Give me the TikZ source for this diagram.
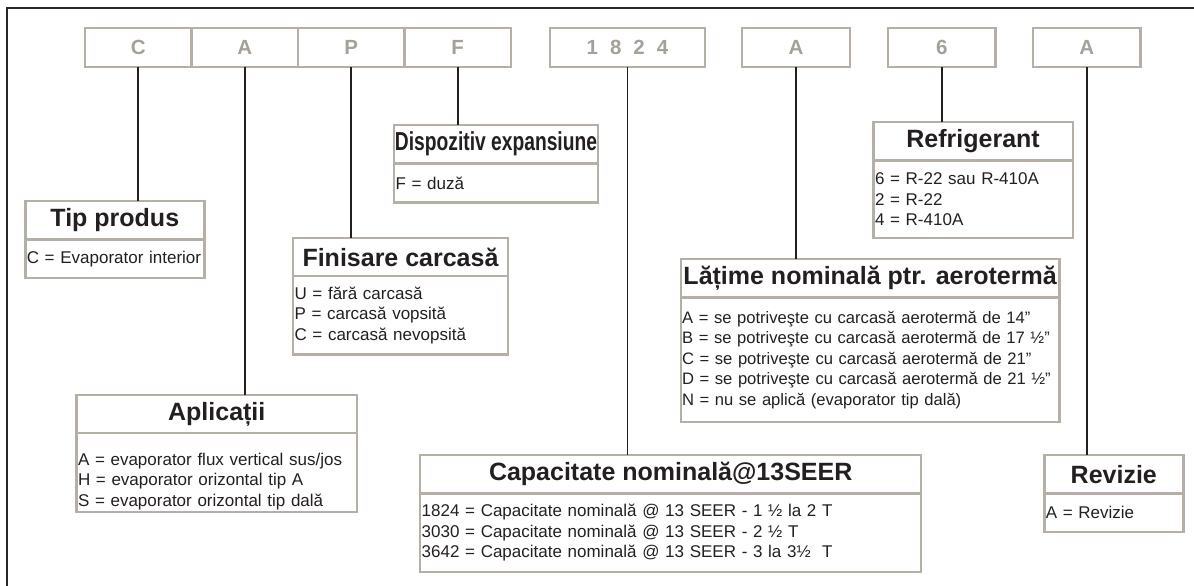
\documentclass[tikz,border=0pt]{standalone}
\usepackage{fontspec}
\usepackage{graphicx}
\setmainfont{Liberation Sans}
\usetikzlibrary{positioning}
\hyphenpenalty=10000
\definecolor{boxgray}{RGB}{181,175,165}
\definecolor{codegray}{RGB}{165,160,152}
\definecolor{inkblack}{RGB}{35,31,32}
\tikzset{
x=1pt, y=-1pt, % one unit per pixel, measured from the top
outer sep=0pt, % lets neighbouring boxes share their borders
codebox/.style={draw=boxgray, line width=2.4pt, minimum height=39pt, inner sep=0pt, text=codegray, font=\fontsize{20.5}{22}\selectfont\bfseries}, % letters of the model code
head/.style={draw=boxgray, line width=2.4pt, minimum height=38.5pt, inner sep=0pt, text=inkblack, font=\fontsize{25}{30}\selectfont\bfseries}, % title of a field
body/.style={draw=boxgray, line width=2.4pt, inner xsep=1.5pt, inner ysep=0pt, align=left, text=inkblack, font=\fontsize{17}{20.5}\selectfont}, % values of a field
wire/.style={line width=1.7pt, inkblack}, % code letter to its field
frame/.style={line width=2.6pt, black!85},
}

\begin{document}
\begin{tikzpicture}
    \clip (0,0) rectangle (1194,586);
    \draw[frame] (7,8) rectangle (1230,630);

    % model code
    \node[codebox, minimum width=106.5pt, anchor=north west] (cC) at (85,28) {C};
    \node[codebox, minimum width=106.5pt, right=0pt of cC] (cA) {A};
    \node[codebox, minimum width=106.5pt, right=0pt of cA] (cP) {P};
    \node[codebox, minimum width=106.5pt, right=0pt of cP] (cF) {F};
    \node[codebox, minimum width=155pt, right=39pt of cF] (cCap) {1\hspace{12pt}8\hspace{12pt}2\hspace{12pt}4};
    \node[codebox, minimum width=108pt, right=37pt of cCap] (cLat) {A};
    \node[codebox, minimum width=107.5pt, right=38pt of cLat] (cRef) {6};
    \node[codebox, minimum width=107.5pt, right=37.5pt of cRef] (cRev) {A};

    % fields
    \node[head, minimum width=179pt, anchor=north west] (tipH) at (25.3,201) {Tip produs};
    \node[body, text width=176pt, minimum height=38.7pt, below=0pt of tipH] (tipB) {C = Evaporator interior};

    \node[head, minimum width=280.5pt, anchor=north west] (aplH) at (76.5,394.7) {Aplicații};
    \node[body, text width=277.5pt, minimum height=78.7pt, below=0pt of aplH] (aplB) {\rule{0pt}{30pt}A = evaporator flux vertical sus/jos\\H = evaporator orizontal tip A\\S = evaporator orizontal tip dală};

    \node[head, minimum width=215pt, anchor=north west] (finH) at (293,237.7) {Finisare carcasă};
    \node[body, text width=212pt, minimum height=78.3pt, below=0pt of finH] (finB) {U = fără carcasă\\P = carcasă vopsită\\C = carcasă nevopsită};

    \node[head, minimum width=204pt, anchor=north west] (dspH) at (394,125) {\scalebox{0.74}[1]{\fontsize{26}{30}\selectfont Dispozitiv expansiune}};
    \node[body, text width=201pt, minimum height=39pt, below=0pt of dspH] (dspB) {F = duză};

    \node[head, minimum width=501pt, anchor=north west] (capH) at (420.2,455) {Capacitate nominală@13SEER};
    \node[body, text width=498pt, minimum height=78.4pt, below=0pt of capH] (capB) {1824 = Capacitate nominală @ 13 SEER - 1 ½ la 2 T\\3030 = Capacitate nominală @ 13 SEER - 2 ½ T\\3642 = Capacitate nominală @ 13 SEER - 3 la 3½\ \ T};

    \node[head, minimum width=378.8pt, anchor=north west] (latH) at (680.7,259) {Lățime nominală ptr. aerotermă};
    \node[body, text width=375.8pt, minimum height=124.4pt, below=0pt of latH, font=\fontsize{16.6}{20.5}\selectfont] (latB) {A = se potriveşte cu carcasă aerotermă de 14”\\B = se potriveşte cu carcasă aerotermă de 17~½”\\C = se potriveşte cu carcasă aerotermă de 21”\\D = se potriveşte cu carcasă aerotermă de 21~½”\\N = nu se aplică (evaporator tip dală)};

    \node[head, minimum width=199.2pt, anchor=north west] (refH) at (873.5,122) {Refrigerant};
    \node[body, text width=196.2pt, minimum height=77.6pt, below=0pt of refH] (refB) {6 = R-22 sau R-410A\\2 = R-22\\4 = R-410A};

    \node[head, minimum width=139pt, anchor=north west] (revH) at (1044.3,455) {Revizie};
    \node[body, text width=136pt, minimum height=38.4pt, below=0pt of revH] (revB) {A = Revizie};

    % code letters to fields
    \draw[wire] (cC.south) -- (cC.south |- tipH.north);
    \draw[wire] (cA.south) -- (cA.south |- aplH.north);
    \draw[wire] (cP.south) -- (cP.south |- finH.north);
    \draw[wire] (cF.south) -- (cF.south |- dspH.north);
    \draw[wire] (cCap.south) -- (cCap.south |- capH.north);
    \draw[wire] (cLat.south) -- (cLat.south |- latH.north);
    \draw[wire] (cRef.south) -- (cRef.south |- refH.north);
    \draw[wire] (cRev.south) -- (cRev.south |- revH.north);
\end{tikzpicture}
\end{document}
